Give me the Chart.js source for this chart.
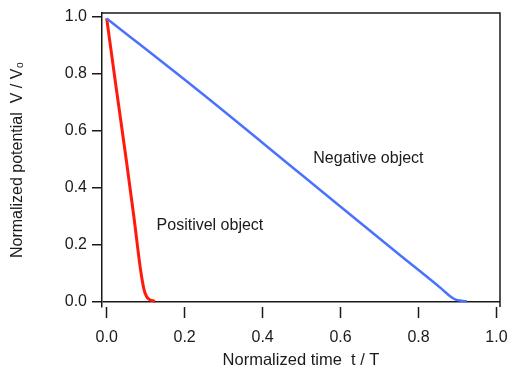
<!DOCTYPE html>
<html>
<head>
<meta charset="utf-8">
<script src="https://cdn.jsdelivr.net/npm/chart.js@4.4.1/dist/chart.umd.min.js"></script>
<style>
  html, body { margin: 0; padding: 0; background: #fff; }
  #wrap { width: 508px; height: 367px; }
</style>
</head>
<body>
<div id="wrap"><canvas id="c" width="508" height="367"></canvas></div>
<script>
"use strict";
// positive object (red) and negative object (blue)
var posT = [0, 0.025, 0.051, 0.07, 0.087, 0.096, 0.102, 0.108, 0.115, 0.124];
var posV = [0.995, 0.745, 0.49, 0.295, 0.11, 0.04, 0.018, 0.008, 0.003, 0.0];
var negT = [0, 0.239, 0.5, 0.752, 0.86, 0.881, 0.895, 0.91, 0.924];
var negV = [0.995, 0.737, 0.445, 0.163, 0.043, 0.018, 0.006, 0.002, 0.0];
var xTicks = [0, 0.2, 0.4, 0.6, 0.8, 1.0];
var yTicks = [0, 0.2, 0.4, 0.6, 0.8, 1.0];
var labels = [
    { text: 'Positivel object', t: 0.128, v: 0.267 },
    { text: 'Negative object', t: 0.53, v: 0.502 }
];

var FONT = 'Liberation Sans, Arial, Helvetica, sans-serif';
var INK = '#1a1a1a';

function pts(ts, vs) {
    return ts.map(function (t, i) { return { x: t, y: vs[i] }; });
}

var framePlugin = {
    id: 'frame',
    afterDatasetsDraw: function (chart) {
        var a = chart.chartArea, ctx = chart.ctx;
        ctx.save();
        ctx.strokeStyle = INK;
        ctx.lineWidth = 1.5;
        ctx.beginPath();
        ctx.moveTo(a.left, a.top);
        ctx.lineTo(a.right, a.top);
        ctx.lineTo(a.right, a.bottom);
        ctx.stroke();
        ctx.fillStyle = INK;
        ctx.font = '16px ' + FONT;
        ctx.textAlign = 'left';
        ctx.textBaseline = 'middle';
        labels.forEach(function (l) {
            ctx.fillText(l.text, chart.scales.x.getPixelForValue(l.t), chart.scales.y.getPixelForValue(l.v));
        });
        ctx.restore();
    }
};

new Chart(document.getElementById('c'), {
    type: 'line',
    data: {
        datasets: [
            { data: pts(negT, negV), borderColor: '#4a72ff', borderWidth: 2.5, pointRadius: 0, cubicInterpolationMode: 'monotone', fill: false },
            { data: pts(posT, posV), borderColor: '#ff1a0d', borderWidth: 3, pointRadius: 0, cubicInterpolationMode: 'monotone', fill: false }
        ]
    },
    options: {
        responsive: false,
        animation: false,
        events: [],
        layout: { padding: { top: 13, right: 8, left: 0, bottom: 0 } },
        plugins: { legend: { display: false }, tooltip: { enabled: false } },
        scales: {
            x: {
                type: 'linear', position: 'bottom', min: -0.012, max: 1.009,
                afterFit: function (s) { s.height = 60; s.paddingLeft = 0; s.paddingRight = 0; },
                afterBuildTicks: function (s) { s.ticks = xTicks.map(function (v) { return { value: v }; }); },
                border: { display: false },
                grid: { drawOnChartArea: false, drawTicks: true, tickLength: 11, tickColor: INK, tickWidth: 1.5 },
                ticks: { color: INK, font: { family: FONT, size: 16 }, padding: 10, maxRotation: 0, autoSkip: false,
                    callback: function (v) { return v.toFixed(1); } },
                title: { display: true, text: 'Normalized time  t / T', color: INK,
                    font: { family: FONT, size: 16.5, lineHeight: 0.8 }, padding: { top: 0, bottom: 0 } }
            },
            y: {
                type: 'linear', position: 'left', min: -0.02, max: 1.014,
                afterFit: function (s) { s.width = 102; s.paddingTop = 0; s.paddingBottom = 0; },
                afterBuildTicks: function (s) { s.ticks = yTicks.map(function (v) { return { value: v }; }); },
                border: { display: true, color: INK, width: 1.5 },
                grid: {
                    drawOnChartArea: true, tickLength: 10, tickColor: INK, tickWidth: 1.5, lineWidth: 1.5,
                    color: function (c) { return c.tick && c.tick.value === 0 ? INK : 'rgba(0,0,0,0)'; }
                },
                ticks: { color: INK, font: { family: FONT, size: 16 }, padding: 5,
                    callback: function (v) { return v.toFixed(1); } },
                title: { display: true, text: 'Normalized potential  V / V\u2080', color: INK,
                    font: { family: FONT, size: 16, lineHeight: 1.2 }, padding: { top: 8, bottom: 0 } }
            }
        }
    },
    plugins: [framePlugin]
});
</script>
</body>
</html>
